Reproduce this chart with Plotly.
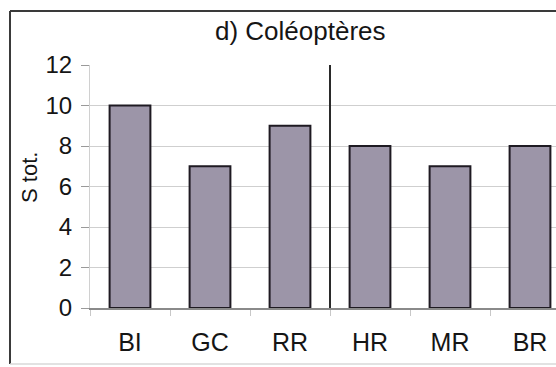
import plotly.graph_objects as go

# Species richness per site
sites = ["BI", "GC", "RR", "HR", "MR", "BR"]
s_tot = [10, 7, 9, 8, 7, 8]
y_ticks = [0, 2, 4, 6, 8, 10, 12]

W, H = 556, 367
L, T, B, R = 90, 65, 59, 0
pw, ph = W - L - R, H - T - B

def px(x):
    return (x - L) / pw

def py(y):
    return (H - B - y) / ph

FONT = "Liberation Sans, Arial, sans-serif"

fig = go.Figure()
fig.add_trace(go.Bar(
    x=sites, y=s_tot,
    marker=dict(color="#9c95a8", line=dict(color="#1e1a22", width=2)),
    showlegend=False,
))

fig.update_layout(
    width=W, height=H,
    margin=dict(l=L, r=R, t=T, b=B),
    paper_bgcolor="white", plot_bgcolor="white",
    bargap=0.49,
    font=dict(family=FONT, color="#151515", size=24),
    xaxis=dict(
        type="category", range=[-0.5, 5.325],
        showline=True, linecolor="#8a8a8a", linewidth=1.5,
        ticks="outside", tickson="boundaries", ticklen=6, tickcolor="#c8c8c8",
        tickfont=dict(size=25), ticklabelstandoff=11,
        showgrid=False, zeroline=False, fixedrange=True,
    ),
    yaxis=dict(
        range=[0, 12], tickvals=y_ticks,
        showline=True, linecolor="#d0d0d0", linewidth=1,
        ticks="outside", ticklen=8, tickcolor="#9a9a9a",
        tickfont=dict(size=24), ticklabelstandoff=4,
        showgrid=True, gridcolor="#cfcfcf", gridwidth=1,
        zeroline=False, fixedrange=True,
    ),
    shapes=[
        # chart frame: dark top and left edges, faint bottom edge
        dict(type="line", xref="paper", yref="paper",
             x0=px(10), x1=px(600), y0=py(11), y1=py(11),
             line=dict(color="#3a3a3a", width=2)),
        dict(type="line", xref="paper", yref="paper",
             x0=px(10), x1=px(10), y0=py(11), y1=py(364),
             line=dict(color="#3a3a3a", width=2)),
        dict(type="line", xref="paper", yref="paper",
             x0=px(10), x1=px(600), y0=py(364), y1=py(364),
             line=dict(color="#d8d8d8", width=1.5)),
        # separator between site groups
        dict(type="line", xref="x", yref="y", x0=2.5, x1=2.5, y0=-0.22, y1=12,
             line=dict(color="#2a2a2a", width=2)),
    ],
    annotations=[
        dict(text="d) Coléoptères", xref="paper", yref="paper",
             x=px(300), y=py(31), xanchor="center", yanchor="middle",
             showarrow=False, font=dict(size=26, color="#151515")),
        dict(text="S tot.", xref="paper", yref="paper",
             x=px(29), y=py(177), xanchor="center", yanchor="middle",
             textangle=-90, showarrow=False, font=dict(size=22, color="#151515")),
    ],
)

fig.write_html("out.html")
